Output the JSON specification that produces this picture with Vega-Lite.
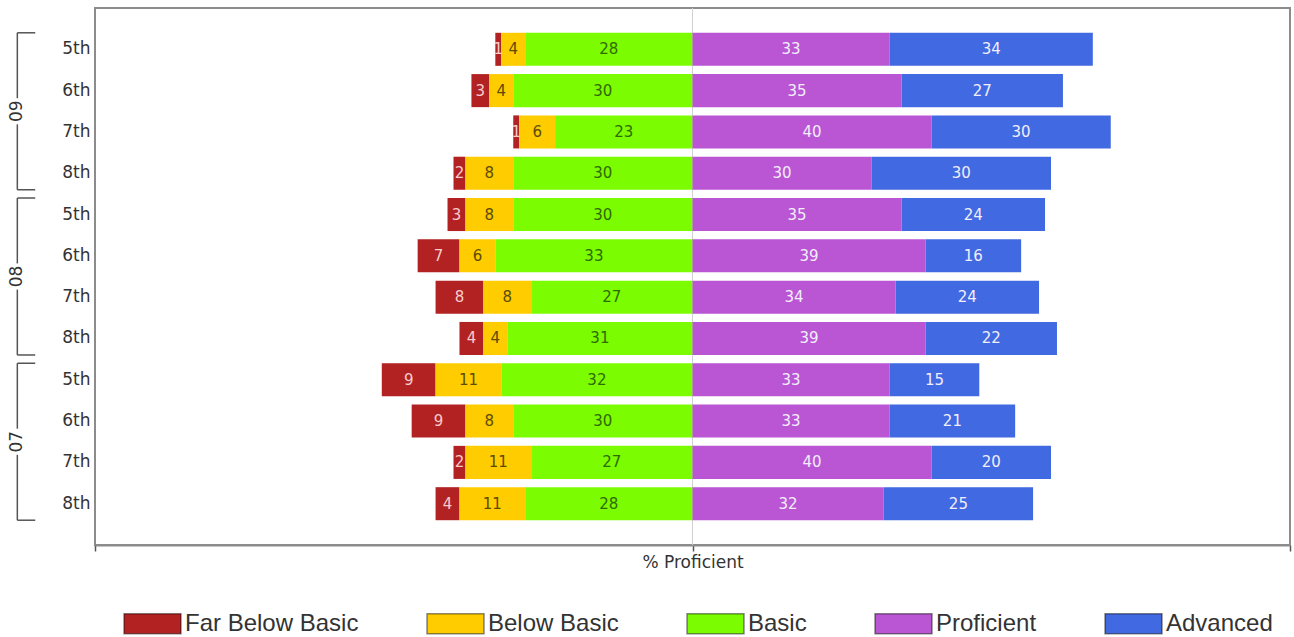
{
  "$schema": "https://vega.github.io/schema/vega-lite/v6.json",
  "width": 1195,
  "height": 537,
  "autosize": {"type": "none"},
  "padding": {"left": 95, "top": 8, "right": 4, "bottom": 92},
  "background": "white",
  "config": {
    "view": {"stroke": "#8c8c8c", "strokeWidth": 2},
    "font": "DejaVu Sans"
  },
  "datasets": {
    "scores": [
      {"year": "09", "grade": "5th", "Far Below Basic": 1, "Below Basic": 4, "Basic": 28, "Proficient": 33, "Advanced": 34},
      {"year": "09", "grade": "6th", "Far Below Basic": 3, "Below Basic": 4, "Basic": 30, "Proficient": 35, "Advanced": 27},
      {"year": "09", "grade": "7th", "Far Below Basic": 1, "Below Basic": 6, "Basic": 23, "Proficient": 40, "Advanced": 30},
      {"year": "09", "grade": "8th", "Far Below Basic": 2, "Below Basic": 8, "Basic": 30, "Proficient": 30, "Advanced": 30},
      {"year": "08", "grade": "5th", "Far Below Basic": 3, "Below Basic": 8, "Basic": 30, "Proficient": 35, "Advanced": 24},
      {"year": "08", "grade": "6th", "Far Below Basic": 7, "Below Basic": 6, "Basic": 33, "Proficient": 39, "Advanced": 16},
      {"year": "08", "grade": "7th", "Far Below Basic": 8, "Below Basic": 8, "Basic": 27, "Proficient": 34, "Advanced": 24},
      {"year": "08", "grade": "8th", "Far Below Basic": 4, "Below Basic": 4, "Basic": 31, "Proficient": 39, "Advanced": 22},
      {"year": "07", "grade": "5th", "Far Below Basic": 9, "Below Basic": 11, "Basic": 32, "Proficient": 33, "Advanced": 15},
      {"year": "07", "grade": "6th", "Far Below Basic": 9, "Below Basic": 8, "Basic": 30, "Proficient": 33, "Advanced": 21},
      {"year": "07", "grade": "7th", "Far Below Basic": 2, "Below Basic": 11, "Basic": 27, "Proficient": 40, "Advanced": 20},
      {"year": "07", "grade": "8th", "Far Below Basic": 4, "Below Basic": 11, "Basic": 28, "Proficient": 32, "Advanced": 25}
    ],
    "groups": [
      {"year": "09", "a": "09 5th", "b": "09 6th", "c": "09 7th", "d": "09 8th"},
      {"year": "08", "a": "08 5th", "b": "08 6th", "c": "08 7th", "d": "08 8th"},
      {"year": "07", "a": "07 5th", "b": "07 6th", "c": "07 7th", "d": "07 8th"}
    ]
  },
  "layer": [
    {
      "data": {"values": [{"ref": "center"}]},
      "mark": {"type": "rule", "color": "#d0d0d0", "strokeWidth": 1},
      "encoding": {"x": {"datum": 0, "type": "quantitative"}}
    },
    {
      "data": {"name": "scores"},
      "transform": [
        {"fold": ["Far Below Basic", "Below Basic", "Basic", "Proficient", "Advanced"], "as": ["level", "pct"]},
        {"calculate": "datum.year + ' ' + datum.grade", "as": "key"},
        {"calculate": "indexof(['Basic','Below Basic','Far Below Basic','Proficient','Advanced'], datum.level)", "as": "ord"},
        {"calculate": "(datum.level == 'Proficient' || datum.level == 'Advanced') ? datum.pct : -datum.pct", "as": "signed"},
        {"stack": "signed", "groupby": ["key"], "sort": [{"field": "ord", "order": "ascending"}], "offset": "zero", "as": ["x0", "x1"]},
        {"calculate": "(datum.x0 + datum.x1) / 2", "as": "mid"}
      ],
      "layer": [
        {
          "mark": {"type": "bar"},
          "encoding": {
            "y": {
              "field": "key", "type": "nominal", "title": null,
              "scale": {
                "domain": ["09 5th", "09 6th", "09 7th", "09 8th", "08 5th", "08 6th", "08 7th", "08 8th", "07 5th", "07 6th", "07 7th", "07 8th"],
                "paddingInner": 0.2, "paddingOuter": 0.6
              },
              "axis": {
                "labelExpr": "slice(datum.value, 3)",
                "domain": false, "ticks": false, "labelPadding": 5,
                "labelFont": "DejaVu Sans", "labelFontSize": 17, "labelColor": "#333333"
              }
            },
            "x": {
              "field": "x0", "type": "quantitative",
              "scale": {"domain": [-100, 100], "nice": false, "zero": false},
              "axis": {
                "values": [-100, 0, 100], "labels": false, "grid": false,
                "ticks": true, "tickSize": 6, "tickColor": "#555555", "tickWidth": 1.5,
                "domain": true, "domainColor": "#8c8c8c", "domainWidth": 2,
                "title": "% Proficient", "titleFont": "DejaVu Sans", "titleFontSize": 17,
                "titleFontWeight": "normal", "titleColor": "#333333", "titlePadding": 3
              }
            },
            "x2": {"field": "x1"},
            "color": {
              "field": "level", "type": "nominal",
              "scale": {
                "domain": ["Far Below Basic", "Below Basic", "Basic", "Proficient", "Advanced"],
                "range": ["#B22222", "#FFCC00", "#7CFC00", "#BA55D3", "#4169E1"]
              },
              "legend": {
                "title": null, "orient": "bottom", "direction": "horizontal", "offset": -5, "padding": 28,
                "symbolType": "M-1,-0.35L1,-0.35L1,0.35L-1,0.35Z", "symbolSize": 3249,
                "symbolStrokeWidth": 1.5, "symbolStrokeColor": "rgba(0,0,0,0.45)",
                "labelFont": "Liberation Sans", "labelFontSize": 24, "labelColor": "#333333",
                "labelOffset": 3, "columnPadding": 65, "labelLimit": 400,
                "encode": {"symbols": {"update": {"stroke": {"value": "rgba(0,0,0,0.45)"}, "strokeWidth": {"value": 1.5}}}}
              }
            }
          }
        },
        {
          "mark": {"type": "text", "font": "DejaVu Sans", "fontSize": 15, "baseline": "middle", "align": "center"},
          "encoding": {
            "y": {"field": "key", "type": "nominal", "title": null},
            "x": {"field": "mid", "type": "quantitative"},
            "text": {"field": "pct", "type": "quantitative"},
            "color": {
              "condition": [
                {"test": "datum.level == 'Below Basic'", "value": "#5c4b00"},
                {"test": "datum.level == 'Basic'", "value": "#2e6b00"},
                {"test": "datum.level == 'Far Below Basic'", "value": "#f7cccc"}
              ],
              "value": "#f2eefc"
            }
          }
        }
      ]
    },
    {
      "data": {"name": "groups"},
      "layer": [
        {
          "mark": {"type": "rule", "color": "#555555", "strokeWidth": 1.5},
          "encoding": {
            "x": {"datum": -113, "type": "quantitative"},
            "y": {"field": "a", "type": "nominal", "bandPosition": 0, "title": null},
            "y2": {"field": "b", "bandPosition": 0.73}
          }
        },
        {
          "mark": {"type": "rule", "color": "#555555", "strokeWidth": 1.5},
          "encoding": {
            "x": {"datum": -113, "type": "quantitative"},
            "y": {"field": "c", "type": "nominal", "bandPosition": 0.27, "title": null},
            "y2": {"field": "d", "bandPosition": 1}
          }
        },
        {
          "mark": {"type": "rule", "color": "#555555", "strokeWidth": 1.5},
          "encoding": {
            "x": {"datum": -113, "type": "quantitative"},
            "x2": {"datum": -110},
            "y": {"field": "a", "type": "nominal", "bandPosition": 0, "title": null}
          }
        },
        {
          "mark": {"type": "rule", "color": "#555555", "strokeWidth": 1.5},
          "encoding": {
            "x": {"datum": -113, "type": "quantitative"},
            "x2": {"datum": -110},
            "y": {"field": "d", "type": "nominal", "bandPosition": 1, "title": null}
          }
        },
        {
          "mark": {"type": "text", "font": "DejaVu Sans", "fontSize": 17, "angle": 270, "align": "center", "baseline": "middle", "color": "#333333"},
          "encoding": {
            "x": {"datum": -113, "type": "quantitative"},
            "y": {"field": "b", "type": "nominal", "bandPosition": 1.126, "title": null},
            "text": {"field": "year", "type": "nominal"}
          }
        }
      ]
    }
  ]
}
